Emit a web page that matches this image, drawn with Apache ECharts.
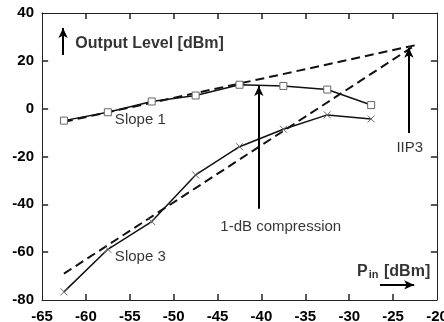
<!DOCTYPE html>
<html>
<head>
<meta charset="utf-8">
<script src="https://cdn.jsdelivr.net/npm/echarts@6/dist/echarts.min.js"></script>
<style>
html,body{margin:0;padding:0;background:#fff;}
#container_01{width:444px;height:322px;}
</style>
</head>
<body>
<div id="container_01"></div>
<script>
// input power for the measured points
var pinData = [-62.5, -57.5, -52.5, -47.5, -42.5, -37.5, -32.5, -27.5];
// fundamental output (squares)
var fundData = [-5, -1.5, 3, 5.5, 10, 9.5, 8, 1.5];
// third order output (crosses)
var im3Data = [-76.6, -58.8, -47.2, -27.7, -15.9, -8.6, -2.6, -4.3];
// extrapolated asymptotes
var slope1X = [-62.5, -22.5];
var slope1Y = [-5.5, 26.5];
var slope3X = [-62.5, -22.5];
var slope3Y = [-69, 26.5];
// annotation arrows [x1, y1, x2, y2]
var arrowData = [
  [-40.3, -41.8, -40.3, 9.5],
  [-23.2, -10.2, -23.2, 25.5],
  [-62.6, 22.4, -62.6, 33.7],
  [-26.5, -73.7, -22.6, -73.7]
];
// texts [x, y, text]
var textData = [
  [-53.8, -4.7, 'Slope 1'],
  [-53.8, -61.9, 'Slope 3'],
  [-37.8, -49.3, '1-dB compression'],
  [-23.1, -16.4, 'IIP3']
];
var xTicks = { min: -65, max: -20, step: 5 };
var yTicks = { min: -80, max: 40, step: 20 };

function pairs(xs, ys) {
  var out = [];
  for (var i = 0; i < xs.length; i++) out.push([xs[i], ys[i]]);
  return out;
}

var container_01 = echarts.init(document.getElementById('container_01'));

var font = 'Liberation Sans, Arial, sans-serif';

// one axis, side = bottom/top/left/right
function makeAxis(side, t, withLabel) {
  return {
    type: 'value', position: side,
    min: t.min, max: t.max, interval: t.step,
    axisLine: { show: true, onZero: false, lineStyle: { color: '#222', width: 1 } },
    axisTick: { show: false },
    axisLabel: withLabel ? {
      show: true, margin: (side === 'bottom' ? 9 : 8),
      color: '#000', fontSize: 15, fontWeight: 'bold', fontFamily: font
    } : { show: false },
    splitLine: { show: false }
  };
}

// dark inside ticks would not draw, so they are short markLines on the axes' scale
var tickLenX = 2.5;  // in y units, for the ticks of the x axes
var tickLenY = 0.7;  // in x units, for the ticks of the y axes
var tickSegs = [];
for (var tx = xTicks.min + xTicks.step; tx < xTicks.max; tx += xTicks.step) {
  tickSegs.push([{ coord: [tx, yTicks.min] }, { coord: [tx, yTicks.min + tickLenX] }]);
  tickSegs.push([{ coord: [tx, yTicks.max] }, { coord: [tx, yTicks.max - tickLenX] }]);
}
for (var ty = yTicks.min + yTicks.step; ty < yTicks.max; ty += yTicks.step) {
  tickSegs.push([{ coord: [xTicks.min, ty] }, { coord: [xTicks.min + tickLenY, ty] }]);
  tickSegs.push([{ coord: [xTicks.max, ty] }, { coord: [xTicks.max - tickLenY, ty] }]);
}

var option = {
  animation: false,
  grid: { left: 42, right: 7, top: 13, bottom: 22, outerBoundsMode: 'none' },
  xAxis: [makeAxis('bottom', xTicks, true), makeAxis('top', xTicks, false)],
  yAxis: [makeAxis('left', yTicks, true), makeAxis('right', yTicks, false)],
  series: [{
    name: 'ticks', type: 'line', data: [], silent: true,
    markLine: {
      silent: true, animation: false,
      symbol: ['none', 'none'],
      label: { show: false },
      lineStyle: { color: '#222', width: 1.5, type: 'solid' },
      data: tickSegs
    }
  }, {
    name: 'slope1', type: 'line', data: pairs(slope1X, slope1Y),
    symbol: 'none', silent: true,
    lineStyle: { color: '#111', width: 2, type: [9, 5] }
  }, {
    name: 'slope3', type: 'line', data: pairs(slope3X, slope3Y),
    symbol: 'none', silent: true,
    lineStyle: { color: '#111', width: 2, type: [9, 5] }
  }, {
    name: 'fund', type: 'line', data: pairs(pinData, fundData),
    symbol: 'rect', symbolSize: 7,
    itemStyle: { color: '#fff', borderColor: '#666', borderWidth: 1 },
    lineStyle: { color: '#111', width: 1.5 }
  }, {
    name: 'im3', type: 'line', data: pairs(pinData, im3Data),
    symbol: 'path://M0,0L10,10M10,0L0,10', symbolSize: 7,
    itemStyle: { color: 'none', borderColor: '#666', borderWidth: 1 },
    lineStyle: { color: '#111', width: 1.5 }
  }, {
    name: 'arrows', type: 'line', data: [], silent: true,
    markLine: {
      silent: true, animation: false,
      symbol: ['none', 'arrow'], symbolSize: [7, 10],
      label: { show: false },
      lineStyle: { color: '#000', width: 2, type: 'solid' },
      data: arrowData.map(function (a) {
        return [{ coord: [a[0], a[1]] }, { coord: [a[2], a[3]] }];
      })
    }
  }, {
    name: 'texts', type: 'scatter', symbolSize: 0, silent: true,
    data: textData,
    label: {
      show: true, position: 'inside', color: '#000', fontSize: 15,
      fontFamily: font,
      formatter: function (p) { return p.data[2]; }
    }
  }, {
    name: 'axisNames', type: 'scatter', symbolSize: 0, silent: true,
    data: [[-61.2, 27.5, 'out'], [-29.1, -67.9, 'pin']],
    label: {
      show: true, position: 'inside', align: 'left', color: '#000',
      fontFamily: font,
      formatter: function (p) {
        return p.data[2] === 'out' ? '{b|Output Level [dBm]}' : '{b|P}{s|in}{b| [dBm]}';
      },
      rich: {
        b: { fontSize: 16, fontWeight: 'bold', color: '#000', lineHeight: 18, verticalAlign: 'bottom' },
        s: { fontSize: 11, fontWeight: 'bold', color: '#000', lineHeight: 14, verticalAlign: 'bottom', padding: [0, 1, 0, 1] }
      }
    }
  }]
};

container_01.setOption(option);
window.addEventListener('resize', function () {
  container_01.resize();
});
</script>
</body>
</html>
